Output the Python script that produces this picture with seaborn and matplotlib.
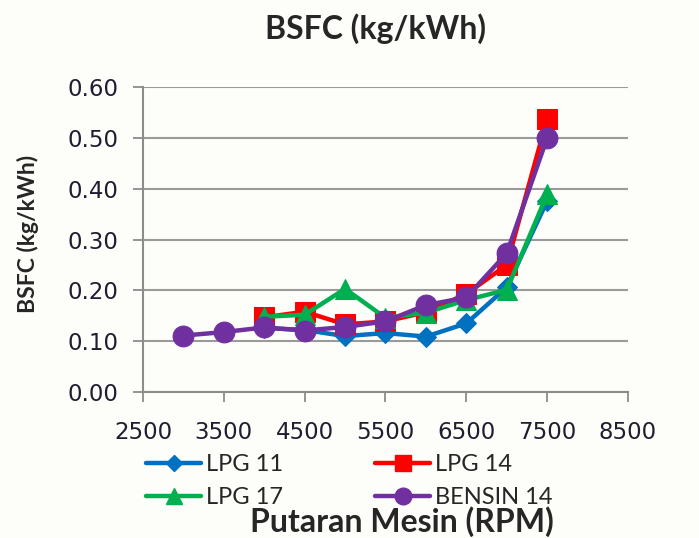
import numpy as np
import pandas as pd
import matplotlib
matplotlib.use("Agg")
import matplotlib.pyplot as plt
import seaborn as sns
from matplotlib.lines import Line2D

################ DATA ################
rpm_bensin = [3000, 3500, 4000, 4500, 5000, 5500, 6000, 6500, 7000, 7500]
rpm_lpg = [4000, 4500, 5000, 5500, 6000, 6500, 7000, 7500]

lpg11 = [0.126, 0.122, 0.110, 0.116, 0.109, 0.135, 0.206, 0.376]
lpg14 = [0.147, 0.158, 0.133, 0.139, 0.157, 0.193, 0.250, 0.538]
lpg17 = [0.148, 0.152, 0.203, 0.146, 0.156, 0.181, 0.201, 0.389]
bensin14 = [0.111, 0.118, 0.127, 0.121, 0.128, 0.139, 0.171, 0.186, 0.273, 0.500]

series_names = ["LPG 11", "LPG 14", "LPG 17", "BENSIN 14"]
colors = {"LPG 11": "#0070C0", "LPG 14": "#FF0000",
          "LPG 17": "#00B050", "BENSIN 14": "#7030A0"}
markers = {"LPG 11": "D", "LPG 14": "s", "LPG 17": "^", "BENSIN 14": "o"}
msizes = {"LPG 11": 10, "LPG 14": 14, "LPG 17": 15, "BENSIN 14": 15}

df = pd.concat([
    pd.DataFrame({"rpm": rpm_lpg, "bsfc": lpg11, "seri": "LPG 11"}),
    pd.DataFrame({"rpm": rpm_lpg, "bsfc": lpg14, "seri": "LPG 14"}),
    pd.DataFrame({"rpm": rpm_lpg, "bsfc": lpg17, "seri": "LPG 17"}),
    pd.DataFrame({"rpm": rpm_bensin, "bsfc": bensin14, "seri": "BENSIN 14"}),
], ignore_index=True)

################ PLOT ################
sns.set_style("white")
plt.rcParams['font.family'] = ['DejaVu Sans']

fig = plt.figure(figsize=(6.99, 5.38), dpi=100, facecolor="#FDFDF9")
ax = fig.add_axes([0.2046, 0.2714, 0.6938, 0.5666])
ax.set_facecolor("#FDFDF9")

for name in series_names:
    sub = df[df["seri"] == name]
    sns.lineplot(data=sub, x="rpm", y="bsfc", ax=ax, color=colors[name],
                 marker=markers[name], markersize=msizes[name],
                 markeredgecolor=colors[name], linewidth=3.2, legend=False)

ax.set_xlim(2500, 8500)
ax.set_ylim(0, 0.6)
ax.set_xticks(np.arange(2500, 8501, 1000))
ax.set_yticks(np.arange(0, 0.61, 0.1))
ax.set_yticklabels([f"{v:.2f}" for v in np.arange(0, 0.61, 0.1)])
ax.yaxis.grid(True, color="#9A9A9A", linewidth=1.5)
ax.xaxis.grid(False)
for s in ["top", "right"]:
    ax.spines[s].set_visible(False)
for s in ["left", "bottom"]:
    ax.spines[s].set_color("#8C8C8C")
    ax.spines[s].set_linewidth(1.5)
ax.tick_params(axis="both", which="both", direction="out", length=7,
               width=1.3, color="#8C8C8C", labelsize=16.5, labelcolor="#1E1E30",
               left=True, bottom=True)
ax.tick_params(axis="y", pad=11)
ax.tick_params(axis="x", pad=14)
ax.set_xlabel("")
ax.set_ylabel("")

fig.text(0.040, 0.565, "BSFC (kg/kWh)", ha="center", va="center", rotation=90,
         family="Lato", fontweight="bold", fontsize=16.5)
fig.text(0.537, 0.946, "BSFC (kg/kWh)", ha="center", va="center",
         family="Lato", fontweight="bold", fontsize=23)
fig.text(0.575, 0.030, "Putaran Mesin (RPM)", ha="center", va="center",
         family="Lato", fontweight="bold", fontsize=23)

# legend filled column by column -> order so rows read LPG 11 / LPG 14, LPG 17 / BENSIN 14
leg_order = ["LPG 11", "LPG 17", "LPG 14", "BENSIN 14"]
handles = [Line2D([0], [0], color=colors[n], marker=markers[n],
                  markersize=msizes[n] * 0.8, linewidth=3.2)
           for n in leg_order]
fig.legend(handles=handles, labels=leg_order, ncol=2, frameon=False,
           loc="upper left", bbox_to_anchor=(0.179, 0.195),
           handlelength=2.33, columnspacing=3.9, labelspacing=0.5,
           handletextpad=0.2, borderpad=0.4,
           prop={"family": "Lato", "size": 17})

fig.savefig("out.png", dpi=100, facecolor=fig.get_facecolor())
